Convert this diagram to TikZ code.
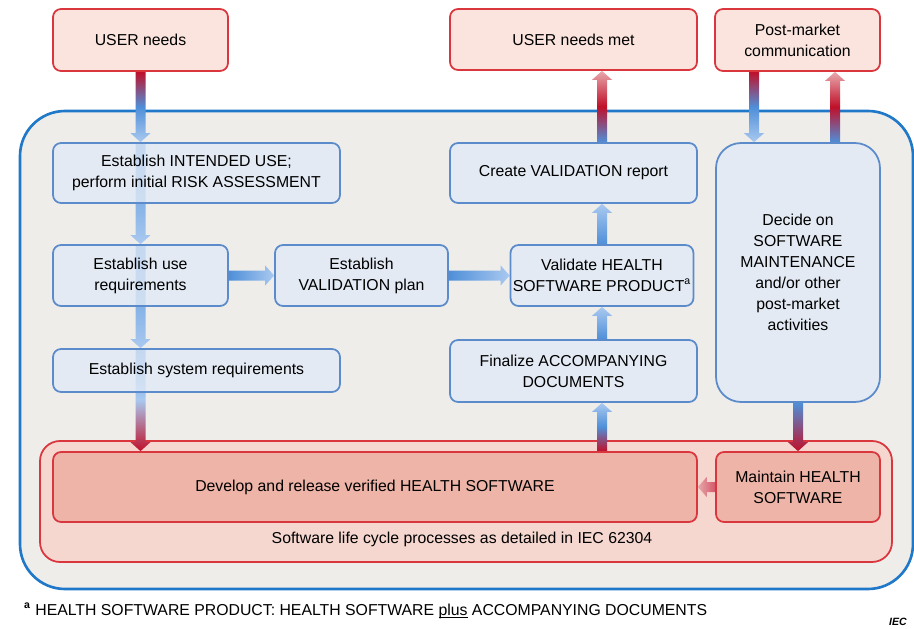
\documentclass[tikz,border=0pt]{standalone}
\usepackage{fontspec}
\setmainfont{Liberation Sans}
\usepackage{tikz}
\usetikzlibrary{calc}
\definecolor{bboxfill}{HTML}{E1EAF6}
\definecolor{bboxline}{HTML}{5B8BCB}
\definecolor{rline}{HTML}{D9363E}
\definecolor{rtopfill}{HTML}{FBE4DD}
\definecolor{devfill}{HTML}{EDB4A7}
\definecolor{redcfill}{HTML}{F5D7CF}
\definecolor{outerfill}{HTML}{EFEDEA}
\definecolor{outerline}{HTML}{1F78C8}
\definecolor{arrred}{HTML}{C0102A}
\definecolor{arrblue}{HTML}{4F8FD8}
\definecolor{arrlight}{HTML}{A9C9F0}
\definecolor{arrpink}{HTML}{E8A8AC}
\pgfdeclarelayer{back}
\pgfdeclarelayer{arrows}
\pgfsetlayers{back,arrows,main}
\tikzstyle{bbox} = [draw=bboxline, line width=1pt, fill=bboxfill, fill opacity=0.8, text opacity=1, rounded corners=0.16cm, align=center, inner sep=0pt]
\tikzstyle{rbox} = [draw=rline, line width=1pt, fill=rtopfill, rounded corners=0.16cm, align=center, inner sep=0pt]
\tikzstyle{dbox} = [draw=rline, line width=1pt, fill=devfill, rounded corners=0.16cm, align=center, inner sep=0pt]
\tikzstyle{outer} = [draw=outerline, line width=1.5pt, fill=outerfill, rounded corners=0.9cm]
\tikzstyle{redc} = [draw=rline, line width=1pt, fill=redcfill, rounded corners=0.4cm]
\newcommand{\shallowul}[1]{\setbox0\hbox{#1}\rlap{\rule[-1.3pt]{\wd0}{0.5pt}}\box0\relax}
\newcommand{\fatarrow}[3]{%
	\coordinate (fa_s) at (#1);
	\coordinate (fa_e) at (#2);
	\coordinate (fa_h) at ($(fa_e)!0.18cm!(fa_s)$);
	\shade[#3] ($(fa_s)!0.1cm!90:(fa_e)$) -- ($(fa_h)!0.1cm!-90:(fa_s)$) -- ($(fa_h)!0.2cm!-90:(fa_s)$) -- (fa_e) -- ($(fa_h)!0.2cm!90:(fa_s)$) -- ($(fa_h)!0.1cm!90:(fa_s)$) -- ($(fa_s)!0.1cm!-90:(fa_e)$) -- cycle;
}

\begin{document}
\begin{tikzpicture}[x=0.02cm,y=-0.02cm,font=\fontsize{9}{11.9}\selectfont]
	\useasboundingbox (0,0) rectangle (914,629);
	\node[rbox, minimum width=3.5cm, minimum height=1.24cm] (un) at (140.5,40) {USER needs};
	\node[rbox, minimum width=4.94cm, minimum height=1.22cm] (um) at (573.5,39.5) {USER needs met};
	\node[rbox, minimum width=3.3cm, minimum height=1.24cm] (pm) at (797.5,40) {Post-market\\communication};
	\node[bbox, minimum width=5.74cm, minimum height=1.2cm] (iu) at (196.5,173) {Establish INTENDED USE;\\perform initial RISK ASSESSMENT};
	\node[bbox, minimum width=3.5cm, minimum height=1.22cm] (ur) at (140.5,275.5) {Establish use\\requirements};
	\node[bbox, minimum width=3.46cm, minimum height=1.22cm] (vp) at (361.5,275.5) {Establish\\VALIDATION plan};
	\node[bbox, minimum width=3.66cm, minimum height=1.22cm] (vh) at (602,275.5) {Validate HEALTH\\SOFTWARE PRODUCT\textsuperscript{a}};
	\node[bbox, minimum width=4.94cm, minimum height=1.2cm] (vr) at (573.5,173) {Create VALIDATION report};
	\node[bbox, minimum width=3.28cm, minimum height=5.18cm, rounded corners=0.5cm] (dm) at (798,272.5) {Decide on\\SOFTWARE\\MAINTENANCE\\and/or other\\post-market\\activities};
	\node[bbox, minimum width=5.74cm, minimum height=0.86cm] (sr) at (196.5,370.5) {Establish system requirements};
	\node[bbox, minimum width=4.94cm, minimum height=1.24cm] (fd) at (573.5,371) {Finalize ACCOMPANYING\\DOCUMENTS};
	\node[dbox, minimum width=12.88cm, minimum height=1.4cm] (dv) at (375,487) {Develop and release verified HEALTH SOFTWARE};
	\node[dbox, minimum width=3.28cm, minimum height=1.4cm] (mh) at (798,487) {Maintain HEALTH\\SOFTWARE};
	\node (lc) at (462,539) {Software life cycle processes as detailed in IEC 62304};
	\node[anchor=west] (fn) at (18,611) {\textsuperscript{\bfseries a} HEALTH SOFTWARE PRODUCT: HEALTH SOFTWARE \shallowul{plus} ACCOMPANYING DOCUMENTS};
	\node[anchor=east, font=\fontsize{6}{7}\selectfont\itshape\bfseries] (iec) at (913,622) {IEC};
	\begin{pgfonlayer}{back}
		\draw[outer] (20,111) rectangle (913,589);
		\draw[redc] (40,441) rectangle (892,562);
	\end{pgfonlayer}
	\begin{pgfonlayer}{arrows}
		\coordinate (xd) at (754,0);
		\coordinate (xu) at (835,0);
		\fatarrow{un.south}{iu.north -| un}{top color=arrred, bottom color=arrlight, middle color=arrblue}
		\fatarrow{iu.north -| un}{ur.north}{top color=arrblue, bottom color=arrlight}
		\fatarrow{ur.north}{sr.north -| ur}{top color=arrblue, bottom color=arrlight}
		\fatarrow{sr.north -| ur}{dv.north -| ur}{top color=arrblue, bottom color=arrred, middle color=arrlight}
		\fatarrow{ur.east}{vp.west}{left color=arrblue, right color=arrlight}
		\fatarrow{vp.east}{vh.west}{left color=arrblue, right color=arrlight}
		\fatarrow{fd.north -| vh}{vh.south}{bottom color=arrblue, top color=arrlight}
		\fatarrow{vh.north}{vr.south -| vh}{bottom color=arrblue, top color=arrlight}
		\fatarrow{vr.north -| vh}{um.south -| vh}{bottom color=arrblue, top color=arrpink, middle color=arrred}
		\fatarrow{dv.north -| vh}{fd.south -| vh}{bottom color=arrred, top color=arrlight, middle color=arrblue}
		\fatarrow{pm.south -| xd}{dm.north -| xd}{top color=arrred, bottom color=arrlight, middle color=arrblue}
		\fatarrow{dm.north -| xu}{pm.south -| xu}{bottom color=arrblue, top color=arrpink, middle color=arrred}
		\fatarrow{dm.south}{mh.north}{top color=arrblue, bottom color=arrred}
		\fatarrow{mh.west}{dv.east}{left color=arrpink, right color=arrred!70!white}
	\end{pgfonlayer}
\end{tikzpicture}
\end{document}
